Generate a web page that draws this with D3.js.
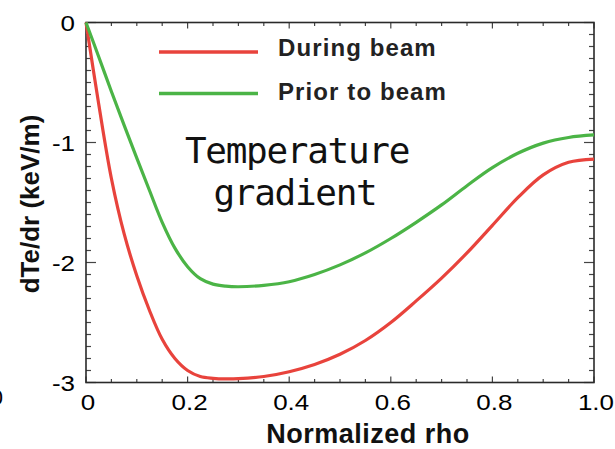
<!DOCTYPE html>
<html><head><meta charset="utf-8">
<script src="https://cdn.jsdelivr.net/npm/d3@7"></script>
<style>
html,body{margin:0;padding:0;background:#fff;}
svg{display:block;}
</style></head>
<body>
<svg id="chart" width="615" height="449"></svg>
<script>
// ---- data ----
const duringX = [0, 0.025, 0.05, 0.075, 0.1, 0.125, 0.15, 0.175, 0.2, 0.225, 0.25, 0.275, 0.3, 0.35, 0.4, 0.45, 0.5, 0.55, 0.6, 0.65, 0.7, 0.75, 0.8, 0.85, 0.9, 0.95, 1.0];
const duringY = [0, -0.68, -1.30, -1.76, -2.11, -2.40, -2.64, -2.80, -2.90, -2.95, -2.965, -2.97, -2.968, -2.95, -2.91, -2.85, -2.765, -2.65, -2.50, -2.32, -2.13, -1.92, -1.69, -1.46, -1.27, -1.165, -1.138];
const priorX = [0, 0.025, 0.05, 0.075, 0.1, 0.125, 0.15, 0.175, 0.2, 0.225, 0.25, 0.275, 0.3, 0.35, 0.4, 0.45, 0.5, 0.55, 0.6, 0.65, 0.7, 0.75, 0.8, 0.85, 0.9, 0.95, 1.0];
const priorY = [0, -0.285, -0.575, -0.855, -1.13, -1.40, -1.665, -1.88, -2.035, -2.135, -2.18, -2.197, -2.202, -2.19, -2.16, -2.10, -2.02, -1.92, -1.80, -1.665, -1.52, -1.36, -1.21, -1.09, -1.005, -0.958, -0.937];
const seriesNames = ["During beam", "Prior to beam"];
const seriesColors = ["#e8433c", "#4bb446"];
const xTicks = [0, 0.2, 0.4, 0.6, 0.8, 1.0];
const xTickLabels = ["0", "0.2", "0.4", "0.6", "0.8", "1.0"];
const yTicks = [0, -1, -2, -3];
const yTickLabels = ["0", "-1", "-2", "-3"];
const xTitle = "Normalized rho";
const yTitle = "dTe/dr (keV/m)";
const annotation = ["Temperature", "gradient"];

// ---- layout ----
const svg = d3.select("#chart");
const L = 86, R = 594, T = 22.5, B = 382.5;
const x = d3.scaleLinear().domain([0, 1]).range([L, R]);
const y = d3.scaleLinear().domain([0, -3]).range([T, B]);

const axisColor = "#2a2a2a";
const tickColor = "#444";

// minor ticks
const xMinor = d3.range(0, 1.0001, 0.05);
const yMinor = d3.range(0, -3.0001, -0.1);

const g = svg.append("g");
function xTickGroup(ypos, dir) {
  g.append("g").selectAll("line").data(xMinor).join("line")
    .attr("x1", d => x(d)).attr("x2", d => x(d))
    .attr("y1", ypos)
    .attr("y2", d => ypos + dir * (xTicks.some(t => Math.abs(t - d) < 1e-6) ? 6 : 3.5))
    .attr("stroke", tickColor).attr("stroke-width", 1.2);
}
xTickGroup(B, -1);
xTickGroup(T, 1);
function yTickGroup(xpos, dir) {
  g.append("g").selectAll("line").data(yMinor).join("line")
    .attr("y1", d => y(d)).attr("y2", d => y(d))
    .attr("x1", xpos)
    .attr("x2", d => xpos + dir * (yTicks.some(t => Math.abs(t - d) < 1e-6) ? 10 : 5))
    .attr("stroke", tickColor).attr("stroke-width", 1.2);
}
yTickGroup(L, 1);
yTickGroup(R, -1);

// frame
g.append("rect").attr("x", L).attr("y", T).attr("width", R - L).attr("height", B - T)
  .attr("fill", "none").attr("stroke", axisColor).attr("stroke-width", 1.6);

// tick labels
const tickFont = "'Liberation Sans', Arial, sans-serif";
const xl = svg.append("g").selectAll("text").data(xTicks).join("text")
  .attr("x", d => x(d) + 2).attr("y", 410)
  .attr("text-anchor", "middle")
  .attr("font-family", tickFont).attr("font-size", 22).attr("fill", "#000")
  .text((d, i) => xTickLabels[i]);
const yl = svg.append("g").selectAll("text").data(yTicks).join("text")
  .attr("x", 75).attr("y", d => y(d) + 8)
  .attr("text-anchor", "end")
  .attr("font-family", tickFont).attr("font-size", 22).attr("fill", "#000")
  .text((d, i) => yTickLabels[i]);
// clipped label at the left edge, as in the reference
svg.append("text").attr("x", 3).attr("y", 405).attr("text-anchor", "end")
  .attr("font-family", tickFont).attr("font-size", 22).attr("fill", "#000").text("0");

[xl, yl].forEach(sel => sel.each(function () {
  const len = this.getComputedTextLength();
  d3.select(this).attr("textLength", len * 1.18).attr("lengthAdjust", "spacingAndGlyphs");
}));

// axis titles
svg.append("text").attr("x", 368).attr("y", 443).attr("text-anchor", "middle")
  .attr("font-family", tickFont).attr("font-weight", "bold").attr("font-size", 27)
  .attr("letter-spacing", 0.5).attr("fill", "#111").text(xTitle);
svg.append("text").attr("transform", "translate(39,204) rotate(-90)").attr("text-anchor", "middle")
  .attr("font-family", tickFont).attr("font-weight", "bold").attr("font-size", 26)
  .attr("fill", "#111").text(yTitle);

// lines
const line = d3.line().x(d => x(d[0])).y(d => y(d[1])).curve(d3.curveCatmullRom.alpha(0.5));
const during = duringX.map((v, i) => [v, duringY[i]]);
const prior = priorX.map((v, i) => [v, priorY[i]]);
svg.append("path").datum(during).attr("d", line).attr("fill", "none")
  .attr("stroke", seriesColors[0]).attr("stroke-width", 3.2).attr("stroke-linejoin", "round");
svg.append("path").datum(prior).attr("d", line).attr("fill", "none")
  .attr("stroke", seriesColors[1]).attr("stroke-width", 3.2).attr("stroke-linejoin", "round");

// legend
const legY = [52, 93.5];
const legTextY = [56, 100];
seriesNames.forEach((n, i) => {
  svg.append("line").attr("x1", 159).attr("x2", 258).attr("y1", legY[i]).attr("y2", legY[i])
    .attr("stroke", seriesColors[i]).attr("stroke-width", 3.4);
  svg.append("text").attr("x", 278).attr("y", legTextY[i])
    .attr("font-family", tickFont).attr("font-weight", "bold").attr("font-size", 24)
    .attr("letter-spacing", 1.1).attr("fill", "#222").text(n);
});

// annotation
const annY = [163, 205];
const annX = [297, 295];
annotation.forEach((t, i) => {
  svg.append("text").attr("x", annX[i]).attr("y", annY[i]).attr("text-anchor", "middle")
    .attr("font-family", "'DejaVu Sans Mono', monospace").attr("font-size", 36)
    .attr("letter-spacing", -1.3).attr("fill", "#111").text(t);
});
</script>
</body></html>
